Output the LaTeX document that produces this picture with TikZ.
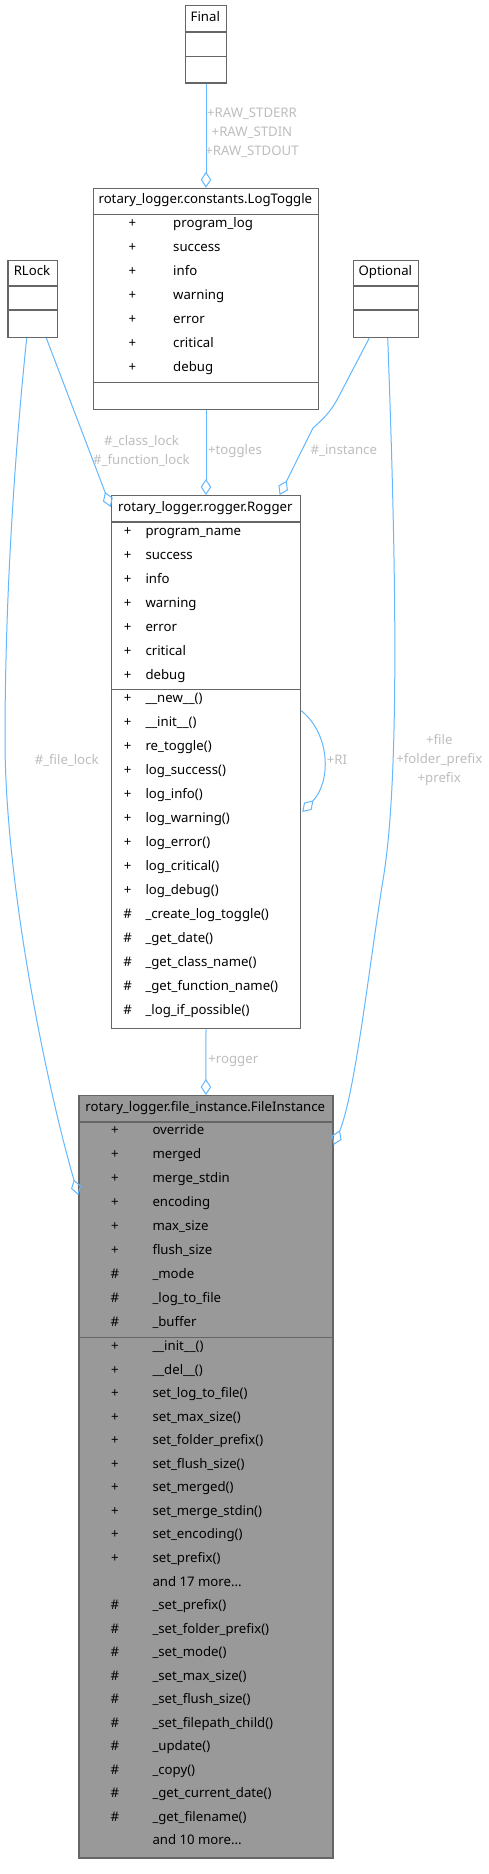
\documentclass[tikz,border=0pt]{standalone}
\usepackage{fontspec}
\setmainfont{Noto Sans}
\usetikzlibrary{arrows.meta,calc}
\definecolor{edgec}{HTML}{63B8FF}
\definecolor{boxc}{HTML}{666666}
\definecolor{labc}{HTML}{BEBEBE}
\definecolor{fillc}{HTML}{999999}
\newcommand\fs{\fontsize{13.2}{19}\selectfont}
\newcommand\mdots{...}
\begin{document}
\begin{tikzpicture}[x=1pt,y=-1pt,
  box/.style={draw=boxc,line width=1.3pt,fill=white,inner sep=0pt,anchor=north west},
  sepl/.style={draw=boxc,line width=1.3pt},
  ttl/.style={font=\fs,anchor=mid,inner sep=0pt},
  sym/.style={font=\fs,anchor=mid,inner sep=0pt},
  nm/.style={font=\fs,anchor=mid west,inner sep=0pt},
  lab/.style={font=\fs,text=labc,align=center,inner sep=0pt},
  agg/.style={draw=edgec,line width=1pt,-{Diamond[open,length=16pt,width=10.5pt]}}]
\useasboundingbox (0,0) rectangle (488,1874);
\fill[white] (0,0) rectangle (488,1874);

% ---------- Final ----------
\node[box,minimum width=41.3pt,minimum height=77.3pt] (fin) at (184.7,5) {};
\draw[sepl] (184.7,32) -- (226,32) (184.7,56.3) -- (226,56.3);
\node[ttl] (fin-t) at (205.35,18.5) {Final};

% ---------- LogToggle ----------
\node[box,minimum width=225.3pt,minimum height=221pt] (lt) at (92.7,187.7) {};
\draw[sepl] (92.7,214.3) -- (318,214.3) (92.7,382.3) -- (318,382.3);
\node[ttl] (lt-t) at (205.35,201.3) {rotary\_logger.constants.LogToggle};
\foreach \n [count=\i from 0] in {program\_log,success,info,warning,error,critical,debug}{
  \node[sym] (lt-s\i) at (132.3,{225.3+24*\i}) {+};
  \node[nm] (lt-a\i) at (173,{225.3+24*\i}) {\n};
}

% ---------- RLock ----------
\node[box,minimum width=49.4pt,minimum height=77pt] (rl) at (7.3,259.7) {};
\draw[sepl] (7.3,286) -- (56.7,286) (7.3,310) -- (56.7,310);
\node[ttl] (rl-t) at (32,273) {RLock};

% ---------- Optional ----------
\node[box,minimum width=65.3pt,minimum height=77pt] (op) at (352.7,259.7) {};
\draw[sepl] (352.7,286) -- (418,286) (352.7,310) -- (418,310);
\node[ttl] (op-t) at (385.35,273) {Optional};

% ---------- Rogger ----------
\node[box,minimum width=189.3pt,minimum height=533pt] (rog) at (110.7,495) {};
\draw[sepl] (110.7,522) -- (300,522) (110.7,689.7) -- (300,689.7);
\node[ttl] (rog-t) at (205.35,508.5) {rotary\_logger.rogger.Rogger};
\foreach \n [count=\i from 0] in {program\_name,success,info,warning,error,critical,debug}{
  \node[sym] (rog-s\i) at (127.7,{532.7+24*\i}) {+};
  \node[nm] (rog-a\i) at (145.3,{532.7+24*\i}) {\n};
}
\foreach \s/\n [count=\i from 0] in {+/\_\_new\_\_(),+/\_\_init\_\_(),+/re\_toggle(),+/log\_success(),+/log\_info(),+/log\_warning(),+/log\_error(),+/log\_critical(),+/log\_debug(),\#/\_create\_log\_toggle(),\#/\_get\_date(),\#/\_get\_class\_name(),\#/\_get\_function\_name(),\#/\_log\_if\_possible()}{
  \node[sym] (rog-ms\i) at (127.7,{700.3+24*\i}) {\s};
  \node[nm] (rog-m\i) at (145.3,{700.3+24*\i}) {\n};
}

% ---------- FileInstance ----------
\node[box,fill=fillc,minimum width=254pt,minimum height=762.3pt] (fi) at (78.3,1095) {};
\draw[sepl] (78.3,1122) -- (332.3,1122) (78.3,1337.7) -- (332.3,1337.7);
\node[ttl] (fi-t) at (205.3,1108.7) {rotary\_logger.file\_instance.FileInstance};
\foreach \s/\n [count=\i from 0] in {+/override,+/merged,+/merge\_stdin,+/encoding,+/max\_size,+/flush\_size,\#/\_mode,\#/\_log\_to\_file,\#/\_buffer}{
  \node[sym] (fi-s\i) at (115,{1132.3+24*\i}) {\s};
  \node[nm] (fi-a\i) at (152.3,{1132.3+24*\i}) {\n};
}
\foreach \s/\n [count=\i from 0] in {+/\_\_init\_\_(),+/\_\_del\_\_(),+/set\_log\_to\_file(),+/set\_max\_size(),+/set\_folder\_prefix(),+/set\_flush\_size(),+/set\_merged(),+/set\_merge\_stdin(),+/set\_encoding(),+/set\_prefix(),{}/and 17 more\mdots,\#/\_set\_prefix(),\#/\_set\_folder\_prefix(),\#/\_set\_mode(),\#/\_set\_max\_size(),\#/\_set\_flush\_size(),\#/\_set\_filepath\_child(),\#/\_update(),\#/\_copy(),\#/\_get\_current\_date(),\#/\_get\_filename(),{}/and 10 more\mdots}{
  \node[sym] (fi-ms\i) at (115,{1348.3+23.5*\i}) {\s};
  \node[nm] (fi-m\i) at (152.3,{1348.3+23.5*\i}) {\n};
}

% ---------- connectors ----------
\draw[agg] (fin.south) -- (lt.north);
\draw[agg] (lt.south) -- (rog.north);
\draw[agg] (rog.south) -- (fi.north);
\draw[agg] ($(rl.south west)+(39,0)$) -- ($(rog.north west)+(0,12)$);
\draw[agg] ($(op.south west)+(16.6,0)$) -- (338,398) .. controls (330,413) and (322,420) .. (313,428) -- ($(rog.north east)+(-21.7,0)$);
\draw[agg] ($(rog.north east)+(0,215.7)$) .. controls (331,735) and (331,782) .. ($(rog.north east)+(1,317)$);
\draw[agg] ($(rl.south west)+(19.4,0)$) .. controls (12,480) and (5,620) .. (5,740) .. controls (5,880) and (45,1080) .. ($(fi.north west)+(0,100)$);
\draw[agg] ($(op.south west)+(35,0)$) .. controls (396,560) and (400,780) .. (383,880) .. controls (370,960) and (355,1095) .. ($(fi.north east)+(0,50)$);

% ---------- labels ----------
\node[lab] (l-raw) at (252,133) {+RAW\_STDERR\\+RAW\_STDIN\\+RAW\_STDOUT};
\node[lab] (l-lock) at (141.5,450.8) {\#\_class\_lock\\\#\_function\_lock};
\node[lab] (l-tog) at (235,450.7) {+toggles};
\node[lab] (l-inst) at (343.8,450.7) {\#\_instance};
\node[lab] (l-ri) at (337,760) {+RI};
\node[lab] (l-fl) at (66.7,760) {\#\_file\_lock};
\node[lab] (l-file) at (439.3,759.7) {+file\\+folder\_prefix\\+prefix};
\node[lab] (l-rog) at (233.3,1060.7) {+rogger};
\end{tikzpicture}
\end{document}
